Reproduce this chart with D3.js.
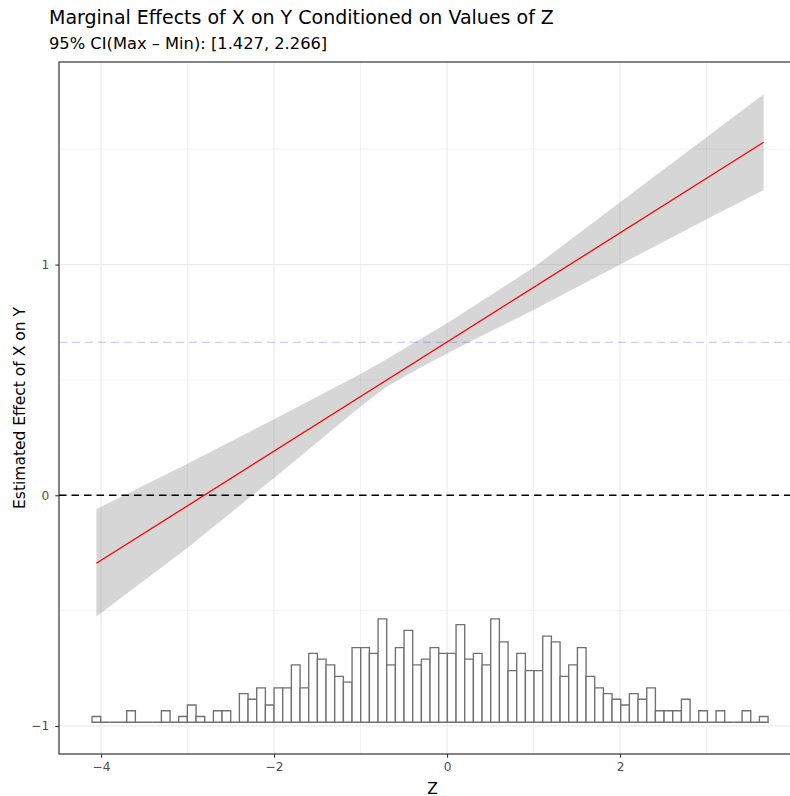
<!DOCTYPE html>
<html>
<head>
<meta charset="utf-8">
<script src="https://cdn.jsdelivr.net/npm/d3@7"></script>
<style>
  html, body { margin: 0; padding: 0; background: #ffffff; }
  svg { display: block; font-family: "DejaVu Sans", Verdana, sans-serif; }
</style>
</head>
<body>
<svg id="chart" width="790" height="796"></svg>
<script>
// Marginal effect of X on Y across Z, with 95% band and Z histogram

const chartTitle = "Marginal Effects of X on Y Conditioned on Values of Z";
const chartSubtitle = "95% CI(Max \u2013 Min): [1.427, 2.266]";
const xTitle = "Z";
const yTitle = "Estimated Effect of X on Y";

// estimated effect (linear in Z)
const effectZ = [-4.054, 3.66];
const effectY = [-0.295, 1.530];

// confidence band
const bandZ     = [-4.054, -3, -2, -1, -0.7, -0.35, 0, 0.5, 1, 2, 3, 3.66];
const bandLower = [-0.526, -0.227, 0.075, 0.385, 0.47, 0.545, 0.615, 0.71, 0.803, 1.0, 1.196, 1.323];
const bandUpper = [-0.061, 0.137, 0.330, 0.526, 0.59, 0.668, 0.746, 0.866, 0.987, 1.27, 1.552, 1.738];

// reference lines
const zeroLine = 0;
const averageEffect = 0.663;

// distribution of Z
const binStart = -4.104;
const binWidth = 0.1002;
const binCounts = [1,0,0,0,2,0,0,0,2,0, 1,3,1,0,2,2,0,5,4,6,
                   3,6,6,10,6,12,11,10,8,7, 13,13,12,18,10,13,16,10,11,13,
                   12,12,17,11,12,10,18,14,9,12, 9,9,15,14,8,10,13,8,6,5,
                   4,3,5,4,6,2,2,2,4,0, 2,0,2,0,0,2,0,1];
const histBase = -0.984;
const countUnit = 0.0249;

// axis ticks
const xMajor = [-4, -2, 0, 2, 4];
const xMinor = [-3, -1, 1, 3];
const yMajor = [-1, 0, 1];
const yMinor = [-0.5, 0.5, 1.5];

const panel = { left: 59, top: 62, right: 806, bottom: 754 };

const svg = d3.select("#chart");

const x = d3.scaleLinear().domain([-4.486, 4.15]).range([panel.left, panel.right]);
const y = d3.scaleLinear().domain([-1.1215, 1.878]).range([panel.bottom, panel.top]);

svg.append("defs").append("clipPath").attr("id", "clip")
  .append("rect")
  .attr("x", panel.left).attr("y", panel.top)
  .attr("width", panel.right - panel.left).attr("height", panel.bottom - panel.top);

const plot = svg.append("g").attr("clip-path", "url(#clip)");

// grid
plot.append("g").selectAll("line").data(xMinor).join("line")
  .attr("x1", d => x(d)).attr("x2", d => x(d))
  .attr("y1", panel.top).attr("y2", panel.bottom)
  .attr("stroke", "#ebebeb").attr("stroke-width", 0.6);
plot.append("g").selectAll("line").data(yMinor).join("line")
  .attr("x1", panel.left).attr("x2", panel.right)
  .attr("y1", d => y(d)).attr("y2", d => y(d))
  .attr("stroke", "#ebebeb").attr("stroke-width", 0.6);
plot.append("g").selectAll("line").data(xMajor).join("line")
  .attr("x1", d => x(d)).attr("x2", d => x(d))
  .attr("y1", panel.top).attr("y2", panel.bottom)
  .attr("stroke", "#ebebeb").attr("stroke-width", 1.2);
plot.append("g").selectAll("line").data(yMajor).join("line")
  .attr("x1", panel.left).attr("x2", panel.right)
  .attr("y1", d => y(d)).attr("y2", d => y(d))
  .attr("stroke", "#ebebeb").attr("stroke-width", 1.2);

// histogram of Z
plot.append("g").selectAll("path").data(binCounts).join("path")
  .attr("d", (c, i) => {
    const x0 = x(binStart + i * binWidth), x1 = x(binStart + (i + 1) * binWidth);
    const y0 = y(histBase), y1 = y(histBase + c * countUnit);
    return `M${x0},${y0}H${x1}V${y1}H${x0}Z`;
  })
  .attr("fill", "#ffffff").attr("stroke", "#707070").attr("stroke-width", 1.35);

// confidence band
const bandData = bandZ.map((z, i) => ({ z, lo: bandLower[i], hi: bandUpper[i] }));
plot.append("path").datum(bandData)
  .attr("d", d3.area().x(d => x(d.z)).y0(d => y(d.lo)).y1(d => y(d.hi)))
  .attr("fill", "#7f7f7f").attr("fill-opacity", 0.32);

// zero line
plot.append("line")
  .attr("x1", panel.left).attr("x2", panel.right)
  .attr("y1", y(zeroLine)).attr("y2", y(zeroLine))
  .attr("stroke", "#000000").attr("stroke-width", 1.5)
  .attr("stroke-dasharray", "7.5,5");

// average effect line
plot.append("line")
  .attr("x1", panel.left).attr("x2", panel.right)
  .attr("y1", y(averageEffect)).attr("y2", y(averageEffect))
  .attr("stroke", "#0000ff").attr("stroke-opacity", 0.26).attr("stroke-width", 1.1)
  .attr("stroke-dasharray", "8,5");

// effect line
plot.append("path").datum(effectZ.map((z, i) => [z, effectY[i]]))
  .attr("d", d3.line().x(d => x(d[0])).y(d => y(d[1])))
  .attr("fill", "none").attr("stroke", "#ff0000").attr("stroke-width", 1.3);

// panel border
svg.append("rect")
  .attr("x", panel.left).attr("y", panel.top)
  .attr("width", panel.right - panel.left).attr("height", panel.bottom - panel.top)
  .attr("fill", "none").attr("stroke", "#333333").attr("stroke-width", 1.2);

// axes
const fmt = d3.format("d");
const xAxis = svg.append("g").attr("transform", `translate(0,${panel.bottom})`)
  .call(d3.axisBottom(x).tickValues(xMajor).tickFormat(fmt).tickSize(3.7).tickPadding(5));
const yAxis = svg.append("g").attr("transform", `translate(${panel.left},0)`)
  .call(d3.axisLeft(y).tickValues(yMajor).tickFormat(fmt).tickSize(3.7).tickPadding(6));
[xAxis, yAxis].forEach(a => {
  a.select(".domain").remove();
  a.selectAll(".tick line").attr("stroke", "#333333").attr("stroke-width", 1.1);
  a.selectAll(".tick text").attr("fill", "#4d4d4d")
    .style("font-family", "'DejaVu Sans', Verdana, sans-serif").style("font-size", "12.2px");
});

// titles
svg.append("text").attr("x", 49).attr("y", 24.3)
  .attr("font-size", "19px").attr("fill", "#000000").text(chartTitle);
svg.append("text").attr("x", 49).attr("y", 48.6)
  .attr("font-size", "16.3px").attr("fill", "#000000").text(chartSubtitle);
svg.append("text").attr("x", (panel.left + panel.right) / 2).attr("y", 793.5)
  .attr("text-anchor", "middle").attr("font-size", "15.5px").attr("fill", "#000000").text(xTitle);
svg.append("text")
  .attr("transform", `translate(24.5,${(panel.top + panel.bottom) / 2}) rotate(-90)`)
  .attr("text-anchor", "middle").attr("font-size", "15.5px").attr("fill", "#000000").text(yTitle);
</script>
</body>
</html>
